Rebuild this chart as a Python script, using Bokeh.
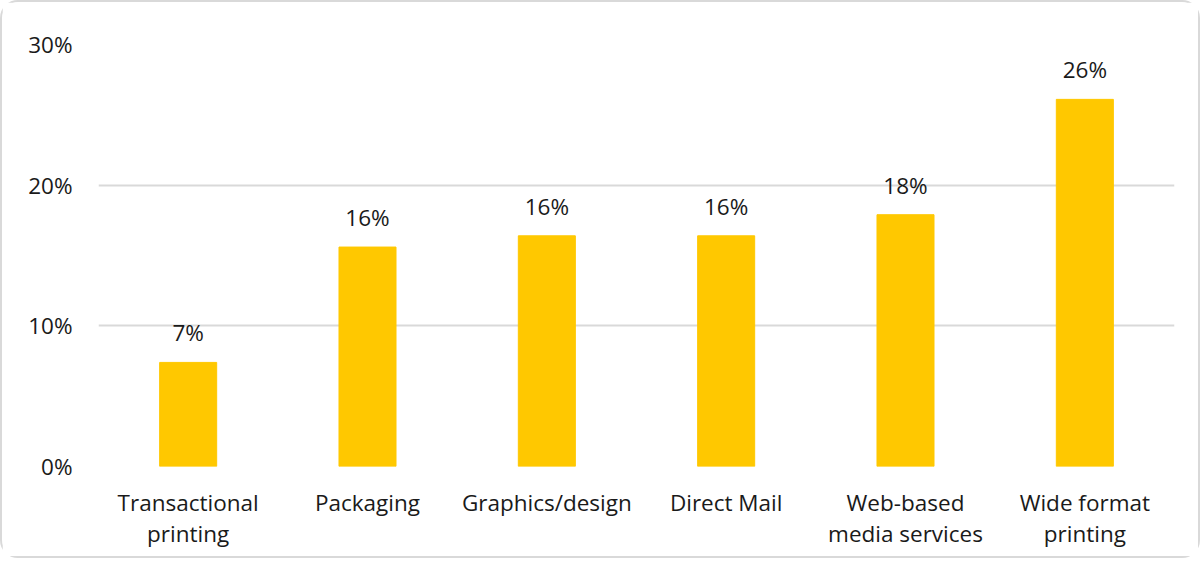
from bokeh.plotting import figure
from bokeh.models import FactorRange, Range1d, FixedTicker, PrintfTickFormatter, ColumnDataSource
from bokeh.core.properties import value
from bokeh.embed import file_html
from bokeh.resources import INLINE

categories = ["Transactional\nprinting", "Packaging", "Graphics/design", "Direct Mail",
              "Web-based\nmedia services", "Wide format\nprinting"]
shares = [7.4, 15.6, 16.4, 16.4, 17.9, 26.1]
labels = [f"{round(v)}%" for v in shares]
y_ticks = [0, 10, 20, 30]

FONT = "Open Sans"
FS = "22.5px"
src = ColumnDataSource(dict(cat=categories, val=shares, lab=labels))

p = figure(x_range=FactorRange(*categories, range_padding=0), y_range=Range1d(0, 30),
           frame_width=1076, frame_height=422, output_backend="svg", toolbar_location=None,
           min_border_left=96, min_border_right=24, min_border_top=42, min_border_bottom=90)
p.styles = {"border": "2px solid #d9d9d9", "border-radius": "18px"}

p.vbar(x="cat", top="val", width=0.318, source=src, color="#FFC800")
p.text(x="cat", y="val", text="lab", source=src, text_align="center", text_baseline="bottom",
       y_offset=-14, text_font=value(FONT), text_font_size=FS, text_color="#1a1a1a")

p.outline_line_color = None
p.xgrid.grid_line_color = None
p.ygrid.grid_line_color = "#d9d9d9"
p.ygrid.grid_line_width = 2
p.ygrid.ticker = FixedTicker(ticks=y_ticks)

p.yaxis.ticker = FixedTicker(ticks=y_ticks)
p.yaxis.formatter = PrintfTickFormatter(format="%d%%")
for ax in (p.xaxis[0], p.yaxis[0]):
    ax.axis_line_color = None
    ax.major_tick_line_color = None
    ax.minor_tick_line_color = None
    ax.major_label_text_font = FONT
    ax.major_label_text_font_size = FS
    ax.major_label_text_color = "#1a1a1a"
p.yaxis.major_label_standoff = 20
p.xaxis.major_label_standoff = 14
p.xaxis.major_label_text_line_height = 1.0

open("out.html", "w").write(file_html(p, INLINE))
